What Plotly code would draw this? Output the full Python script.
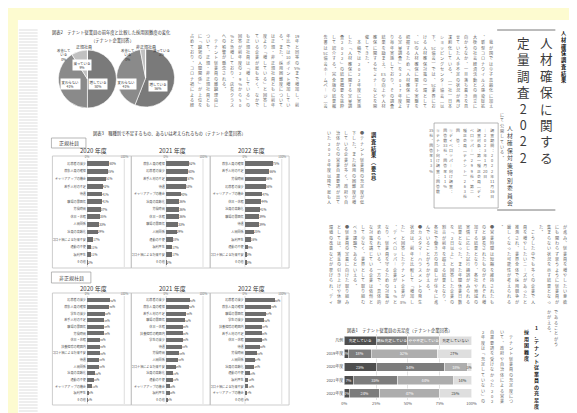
import plotly.graph_objects as go

W, H = 577, 413
JP = "Noto Sans CJK JP"

# ------------------------------------------------------------------ data
PIE_LABELS = ["増している", "変わらない", "減っている", "改善している"]
PIE_REGULAR = [50, 41, 9, 0]
PIE_NONREGULAR = [56, 41, 3, 0]

REG_2020_LABELS = ["応募者の減少", "募集人員の確保", "キャリアアップの機会", "若手人材の不足", "待遇", "職場の雰囲気",
                   "労働時間", "休日・休暇", "人間関係", "社員の高齢化", "コロナ禍による将来不安", "通勤の不便",
                   "福利厚生", "その他"]
REG_2020_VALUES = [60, 55, 51, 42, 41, 41, 37, 35, 33, 29, 17, 11, 11, 2]

REG_2021_LABELS = ["募集人員の確保", "応募者の減少", "若手人材の不足", "待遇", "キャリアアップの機会", "社員の高齢化",
                   "労働時間", "休日・休暇", "職場の雰囲気", "人間関係", "通勤の不便", "福利厚生",
                   "コロナ禍による将来不安", "その他"]
REG_2021_VALUES = [62, 60, 57, 53, 40, 36, 36, 36, 33, 29, 18, 17, 17, 2]

REG_2022_LABELS = ["募集人員の確保", "若手人材の不足", "労働時間", "応募者の減少", "キャリアアップの機会", "休日・休暇",
                   "社員の高齢化", "職場の雰囲気", "待遇", "人間関係", "福利厚生", "通勤の不便",
                   "コロナ禍による将来不安", "その他"]
REG_2022_VALUES = [75, 66, 56, 56, 47, 44, 41, 39, 39, 25, 16, 9, 3, 3]

NON_2020_LABELS = ["応募者の減少", "募集人員の確保", "学生の減少", "若手人材の不足", "職場の雰囲気", "労働時間",
                   "休日・休暇", "扶養控除の範囲内", "コロナ禍による将来不安", "待遇", "人間関係", "社員の高齢化",
                   "通勤の不便", "キャリアアップの機会", "福利厚生", "その他"]
NON_2020_VALUES = [62, 60, 48, 46, 46, 46, 35, 35, 35, 33, 33, 22, 18, 14, 5, 2]

NON_2021_LABELS = ["応募者の減少", "募集人員の確保", "若手人材の不足", "職場の雰囲気", "休日・休暇", "扶養控除の範囲内",
                   "学生の減少", "待遇", "労働時間", "人間関係", "コロナ禍による将来不安", "社員の高齢化",
                   "通勤の不便", "キャリアアップの機会", "福利厚生", "その他"]
NON_2021_VALUES = [64, 62, 55, 52, 45, 45, 45, 43, 36, 33, 26, 19, 19, 10, 10, 5]

NON_2022_LABELS = ["応募者の減少", "募集人員の確保", "職場の雰囲気", "学生の減少", "扶養控除の範囲内", "若手人材の不足",
                   "休日・休暇", "待遇", "労働時間", "人間関係", "社員の高齢化", "通勤の不便", "福利厚生",
                   "コロナ禍による将来不安", "キャリアアップの機会", "その他"]
NON_2022_VALUES = [80, 70, 57, 52, 47, 45, 45, 40, 33, 27, 26, 13, 10, 10, 7, 0]

SAT_YEARS = ["2019年度", "2020年度", "2021年度", "2022年度"]
SAT_CATEGORIES = ["充足している", "概ね充足している", "やや不足している", "充足していない"]
SAT_FULL = [3, 25, 7, 4]
SAT_MOSTLY = [18, 54, 35, 24]
SAT_SHORT = [52, 18, 44, 47]
SAT_NOT = [27, 3, 14, 25]
SAT_LEGEND_ROW = "凡例"

YEAR_TITLES = ["2020 年度", "2021 年度", "2022 年度"]

TITLE_1 = "人材確保に関する"
TITLE_2 = "定量調査2022"
SUBTITLE = "人材確保対策特別委員会"
SECTION_TAG = "人材確保調査結果"

TEXT_LEFT = ("19年と同等の5%まで増加し、前年比では10ポイント増加している。また、採用困難度については"
             "正規・非正規社員ともに前年度より「増している」と回答している企業が最も多く、なかでも正規社員は"
             "「増している」の回答が前年度の29%から50%と急増しており、店長クラスへの影響が懸念される。\n"
             "　テナント従業員の離職理由について、正規・非正規社員ともに「職場の人間関係」が上位を占めており、"
             "コロナ禍による経営環境悪化や営業時間の変更などにより従業員の負担が増していることがうかがえる。")

TEXT_INTRO = ("　我が国では少子高齢化に加え、新型コロナウイルス感染症拡大後の社会経済活動との両立に向かうなか、"
              "一旦落ち着きを見せていた人手不足の状況が再び深刻化している。（一社）日本ショッピングセンター協会"
              "（以下、SC協会）では、SC業界における人材確保対策の一環として、SCの人材確保に関する実態を把握するため"
              "「人材確保に関する定量調査」を2017年度より毎年実施しており、その調査結果を踏まえ、ESの向上や"
              "人材確保に関するセミナーなどを開催してきた。\n"
              "　本稿では2022年度に実施した「人材確保に関する定量調査2022」の結果概要を抜粋して紹介する。"
              "完全版の結果報告書はSC協会ホームページ（会員限定）")
TEXT_INTRO_END = "にて公開している。"

TEXT_BOX = ("調査期間：2022年11月16日\n〜2023年1月20日\n調査対象：第一種正会員（ディ\nベロッパー）299社、第二\n"
            "種正会員（テナント）263社\n回　答：\n①ディベロッパー向け調査：\n回答数33社、回答率11%\n"
            "②テナント向け調査：回答数\n35社、回答率13%")

HEAD_SUMMARY = "調査結果（要旨）"
TEXT_SUMMARY = ("●テナント従業員の充足度が低下した。また採用の困難度が増している企業が多く、"
                "政府や自治体からの営業自粛要請が出ていた2020年度以降で最も人手不足感が強い結果となった。")

TEXT_TIER3 = ("が進み、従業員を増やしたい意欲にも関わらず思うように従業員が集まらない状況を示す結果となった。\n"
              "　こうした中でも多くの企業で人員を増やしたいニーズがあったと推測され、業界全体で採用競争が"
              "厳しくなった可能性が考えられる。\n"
              "●営業時間は短縮を維持されたものと延長されたものがそれぞれ増加する結果となり、各社や地域の実情に"
              "応じた試行錯誤がみられる結果となった。また年間休業日数を「2日以上」と回答した企業の割合が前年を"
              "超える結果となり、各社で働き方の見直しが徐々に進んでいることがうかがえる。\n"
              "●カスタマーハラスメントの発生状況は、前年と比較して「増加した」と回答したテナント企業が8%、"
              "ディベロッパー企業が15%となり、従業員を守るための対策が求められている。一方で、具体的な対策を"
              "講じている企業は依然として少なく、業界として取り組むべき課題であるといえる。\n"
              "●従業員の定着に向けた取り組みとしては、賃金の引き上げや休憩環境の改善などが挙げられ、"
              "ディベロッパーとテナントが連携した取り組みの重要性が高まっている。")

TEXT_TIER4_TOP = "であることがう\nかがえる。"
HEAD_SECTION_1A = "1．テナント従業員の充足度・"
HEAD_SECTION_1B = "採用困難度"
TEXT_TIER4 = ("　テナント従業員の充足度について、政府や自治体による営業自粛要請を受けなかった2022年度は"
              "「充足していない」の回答が20")

FIG1_TITLE = "図表1　テナント従業員の充足度（テナント企業回答）"
FIG2_TITLE = "図表2　テナント従業員の前年度と比較した採用困難度の変化"
FIG2_SUB = "（テナント企業回答）"
FIG3_TITLE = "図表3　職種別で不足するもの、あるいは考えられるもの（テナント企業回答）"
FOOT_LEFT = "SC JAPAN TODAY April 2023"
FOOT_RIGHT = "SC JAPAN TODAY April 2023"

# ------------------------------------------------------------------ helpers
def X(p):
    return p / W


def Y(p):
    return 1 - p / H


VMAP = {"、": "︑", "。": "︒", "（": "︵", "）": "︶", "「": "﹁", "」": "﹂", "ー": "︱",
        "〜": "︱", "：": "︓", "，": "︐"}


def cells(text):
    out, i = [], 0
    while i < len(text):
        ch = text[i]
        if ch.isascii() and (ch.isalnum() or ch == "%"):
            j = i
            while j < len(text) and text[j].isascii() and (text[j].isalnum() or text[j] == "%"):
                j += 1
            run = text[i:j]
            if len(run) <= 2:
                out.append(run)
            else:
                out.extend(list(run))
            i = j
        else:
            out.append(VMAP.get(ch, ch))
            i += 1
    return out


fig = go.Figure()
shapes, annotations = [], []


def add_vtext(text, x_right, y_top, dx, nmax, size=4.1, color="#666666", weight="normal", ncols=None):
    """Vertical (tategaki) text: every column is one multi-line annotation (line step = 1.3 * size)."""
    col = 0
    for para in text.split("\n"):
        cs = cells(para)
        for k in range(0, len(cs), nmax):
            if ncols is not None and col >= ncols:
                return
            annotations.append(dict(text="<br>".join(cs[k:k + nmax]), x=X(x_right - col * dx), y=Y(y_top),
                                    xref="paper", yref="paper", showarrow=False, xanchor="center",
                                    yanchor="top", align="center", borderpad=0,
                                    font=dict(family=JP, size=size, color=color, weight=weight)))
            col += 1


def note(text, x, y, size=4.5, color="#333", xanchor="center", bg=None, weight="normal", family=JP):
    d = dict(text=text, x=X(x), y=Y(y), xref="paper", yref="paper", showarrow=False,
             xanchor=xanchor, yanchor="middle", font=dict(family=family, size=size, color=color, weight=weight))
    if bg:
        d.update(bgcolor=bg, borderpad=0.5)
    annotations.append(d)


def rect(x0, y0, x1, y1, line="#b5b5b5", fill=None, width=0.8, layer="above"):
    shapes.append(dict(type="rect", xref="paper", yref="paper", x0=X(x0), x1=X(x1), y0=Y(y1), y1=Y(y0),
                       line=dict(color=line, width=width), fillcolor=fill, layer=layer))


def hline(x0, x1, y, color="#555", width=0.8):
    shapes.append(dict(type="line", xref="paper", yref="paper", x0=X(x0), x1=X(x1), y0=Y(y), y1=Y(y),
                       line=dict(color=color, width=width)))


# ------------------------------------------------------------------ page background
shapes.append(dict(type="rect", xref="paper", yref="paper", x0=X(7), x1=1, y0=0, y1=Y(12),
                   fillcolor="white", line_width=0, layer="below"))
sx, sy = [], []
for yy in range(22, 412, 3):
    sx += [8, 27, None, 568, 577, None]
    sy += [yy, yy, None, yy, yy, None]
fig.add_trace(go.Scatter(x=sx, y=sy, mode="lines", line=dict(color="#c8c8c8", width=0.6),
                         hoverinfo="skip", showlegend=False, xaxis="x", yaxis="y"))

# ------------------------------------------------------------------ body text (vertical)
add_vtext(TEXT_LEFT, 290, 24, 8.2, 14, ncols=14)
add_vtext(TEXT_INTRO, 487, 25, 8.4, 14, ncols=21)
add_vtext(TEXT_INTRO_END, 498, 103, 8.4, 14)
add_vtext(TEXT_BOX, 488, 118, 6.9, 15, size=3.9)
add_vtext(HEAD_SUMMARY, 368, 122, 8, 10, size=5.2, color="#222", weight="bold")
add_vtext(TEXT_SUMMARY, 356, 121, 8.3, 14, ncols=5)
add_vtext(TEXT_TIER3, 562, 215, 8.2, 15, ncols=30)
add_vtext(TEXT_TIER4_TOP, 553, 300, 7, 7)
add_vtext(HEAD_SECTION_1A, 533, 315, 8, 14, size=5.0, color="#222", weight="bold")
add_vtext(HEAD_SECTION_1B, 523, 319, 8, 6, size=5.0, color="#222", weight="bold")
add_vtext(TEXT_TIER4, 507, 320, 9.5, 14, ncols=4)

# title block
add_vtext(TITLE_1, 543, 24, 10, 8, size=12.6, color="#3a3a3a")
add_vtext(TITLE_2, 520, 24, 10, 8, size=12.6, color="#3a3a3a")
add_vtext(SUBTITLE, 506, 114, 8, 11, size=5.8, color="#444")
add_vtext(SECTION_TAG, 561, 20, 8, 8, size=5.2, color="#111", weight="bold")
hline(493, 552, 22)
hline(493, 552, 202)
rect(429, 115, 494, 200, line="#9a9a9a", width=0.7)

# ------------------------------------------------------------------ pies
pie_colors = ["#7a7a7a", "#8a8a8a", "#c0c0c0", "#e2e2e2"]
fig.add_trace(go.Pie(labels=PIE_LABELS, values=PIE_REGULAR, sort=False, direction="clockwise", rotation=0,
                     textinfo="none", hoverinfo="skip", showlegend=False,
                     marker=dict(colors=pie_colors, line=dict(color="white", width=0.6)),
                     domain=dict(x=[X(48), X(107)], y=[Y(100), Y(42)])))
fig.add_trace(go.Pie(labels=PIE_LABELS, values=PIE_NONREGULAR, sort=False, direction="clockwise", rotation=0,
                     textinfo="none", hoverinfo="skip", showlegend=False,
                     marker=dict(colors=pie_colors, line=dict(color="white", width=0.6)),
                     domain=dict(x=[X(107), X(166)], y=[Y(99), Y(41)])))
note(FIG2_TITLE, 102, 25, size=4.3)
note(FIG2_SUB, 103, 32, size=4.3)
note("正規社員", 74, 39, size=4)
note("非正規社員", 137, 39, size=4)
note(f"{PIE_LABELS[0]}<br>{PIE_REGULAR[0]}%", 88, 76, size=3.4, bg="white")
note(f"{PIE_LABELS[1]}<br>{PIE_REGULAR[1]}%", 60, 76, size=3.4, bg="white")
note(f"{PIE_LABELS[2]}<br>{PIE_REGULAR[2]}%", 72, 57, size=3.4, bg="white")
note(f"改善して<br>いる<br>{PIE_REGULAR[3]}%", 53, 47, size=3.4)
note(f"{PIE_LABELS[0]}<br>{PIE_NONREGULAR[0]}%", 149, 78, size=3.4, bg="white")
note(f"{PIE_LABELS[1]}<br>{PIE_NONREGULAR[1]}%", 117, 76, size=3.4, bg="white")
note(f"改善して<br>いる<br>{PIE_NONREGULAR[3]}%", 118, 47, size=3.4)
note(f"{PIE_LABELS[2]}<br>{PIE_NONREGULAR[2]}%", 153, 44, size=3.4)

# ------------------------------------------------------------------ bar panels
note(FIG3_TITLE, 161, 125, size=4.3)
rect(41, 130, 76, 140, line="#999", width=0.7)
note("正規社員", 58.5, 135, size=5, color="#444")
rect(41, 264, 81, 275, line="#999", width=0.7)
note("非正規社員", 61, 269.5, size=5, color="#444")

panels = [
    (REG_2020_LABELS, REG_2020_VALUES, 42, 152, 258, 148, 260, 142),
    (REG_2021_LABELS, REG_2021_VALUES, 122, 152, 258, 148, 260, 142),
    (REG_2022_LABELS, REG_2022_VALUES, 202, 152, 258, 148, 260, 142),
    (NON_2020_LABELS, NON_2020_VALUES, 42, 289, 395, 285, 397, 280),
    (NON_2021_LABELS, NON_2021_VALUES, 122, 289, 395, 285, 397, 280),
    (NON_2022_LABELS, NON_2022_VALUES, 202, 289, 395, 285, 397, 280),
]
layout_axes = {}
for i, (labels, values, left, ytop, ybot, btop, bbot, ytitle) in enumerate(panels):
    n = i + 2
    zero, hundred = left + 35, left + 73
    rect(left, btop, left + 80, bbot, line="#c0c0c0", width=0.8)
    note(YEAR_TITLES[i % 3], left + 42, ytitle, size=6, color="#333")
    layout_axes[f"xaxis{n}"] = dict(domain=[X(zero), X(hundred)], range=[0, 100], anchor=f"y{n}", side="top",
                                    tickvals=[0, 100], ticktext=["0%", "100%"], ticks="",
                                    tickfont=dict(size=3, color="#666", family=JP),
                                    showgrid=False, zeroline=False, showline=False, fixedrange=True)
    layout_axes[f"yaxis{n}"] = dict(domain=[Y(ybot), Y(ytop)], anchor=f"x{n}", autorange="reversed",
                                    type="category", ticks="", tickfont=dict(size=3.1, color="#555", family=JP),
                                    showgrid=False, zeroline=False, showline=False, fixedrange=True)
    for xv in (0, 100):
        shapes.append(dict(type="line", xref=f"x{n}", yref="paper", x0=xv, x1=xv,
                           y0=Y(ybot + 1), y1=Y(ytop - 1), line=dict(color="#8a8a8a", width=0.6)))
    fig.add_trace(go.Bar(x=values, y=labels, orientation="h", xaxis=f"x{n}", yaxis=f"y{n}",
                         marker=dict(color="#6e6e6e", line_width=0), width=0.62,
                         text=[f"{v}%" for v in values], textposition="outside", cliponaxis=False,
                         textfont=dict(size=4, color="#444", family=JP),
                         hoverinfo="skip", showlegend=False))

# ------------------------------------------------------------------ stacked satisfaction chart
note(FIG1_TITLE, 394, 322, size=4.3)
sat_series = [SAT_FULL, SAT_MOSTLY, SAT_SHORT, SAT_NOT]
sat_colors = ["#4e4e4e", "#7c7c7c", "#adadad", "#dedede"]
sat_text_colors = ["white", "white", "white", "#333"]
rows = [SAT_LEGEND_ROW] + SAT_YEARS
for name, vals, col, tcol in zip(SAT_CATEGORIES, sat_series, sat_colors, sat_text_colors):
    fig.add_trace(go.Bar(x=[25] + vals, y=rows, orientation="h", xaxis="x8", yaxis="y8", name=name,
                         marker=dict(color=col, line=dict(color="white", width=0.5)), width=0.68,
                         text=[name] + [f"{v}%" for v in vals], textposition="inside",
                         insidetextanchor="middle", constraintext="none", textangle=0,
                         textfont=dict(size=3.8, color=tcol, family=JP),
                         hoverinfo="skip", showlegend=False))
layout_axes["xaxis8"] = dict(domain=[X(338), X(467)], range=[0, 100], anchor="y8",
                             tickvals=[0, 25, 50, 75, 100], ticktext=["0%", "25%", "50%", "75%", "100%"],
                             ticks="", tickfont=dict(size=4, color="#555", family=JP),
                             showgrid=True, gridcolor="#e3e3e3", gridwidth=0.5, zeroline=False,
                             showline=False, fixedrange=True)
layout_axes["yaxis8"] = dict(domain=[Y(392), Y(326)], anchor="x8", autorange="reversed", type="category",
                             categoryorder="array", categoryarray=rows, ticks="",
                             tickfont=dict(size=4, color="#555", family=JP),
                             showgrid=False, zeroline=False, showline=False, fixedrange=True)

# ------------------------------------------------------------------ footers
note("47", 15, 406, size=5, color="#222", weight="bold", xanchor="left")
note(FOOT_LEFT, 24, 406, size=3.5, color="#666", xanchor="left")
note(FOOT_RIGHT, 515, 408, size=3.5, color="#666", xanchor="left")
note("48", 563, 408, size=5, color="#222", weight="bold", xanchor="left")

fig.update_layout(
    width=W, height=H, margin=dict(l=0, r=0, t=0, b=0),
    paper_bgcolor="#fdfbd0", plot_bgcolor="rgba(0,0,0,0)",
    barmode="stack", bargap=0.3, showlegend=False,
    xaxis=dict(domain=[0, 1], range=[0, W], visible=False, fixedrange=True),
    yaxis=dict(domain=[0, 1], range=[H, 0], visible=False, fixedrange=True),
    shapes=shapes, annotations=annotations,
    font=dict(family=JP),
    **layout_axes,
)
fig.write_html("out.html")
